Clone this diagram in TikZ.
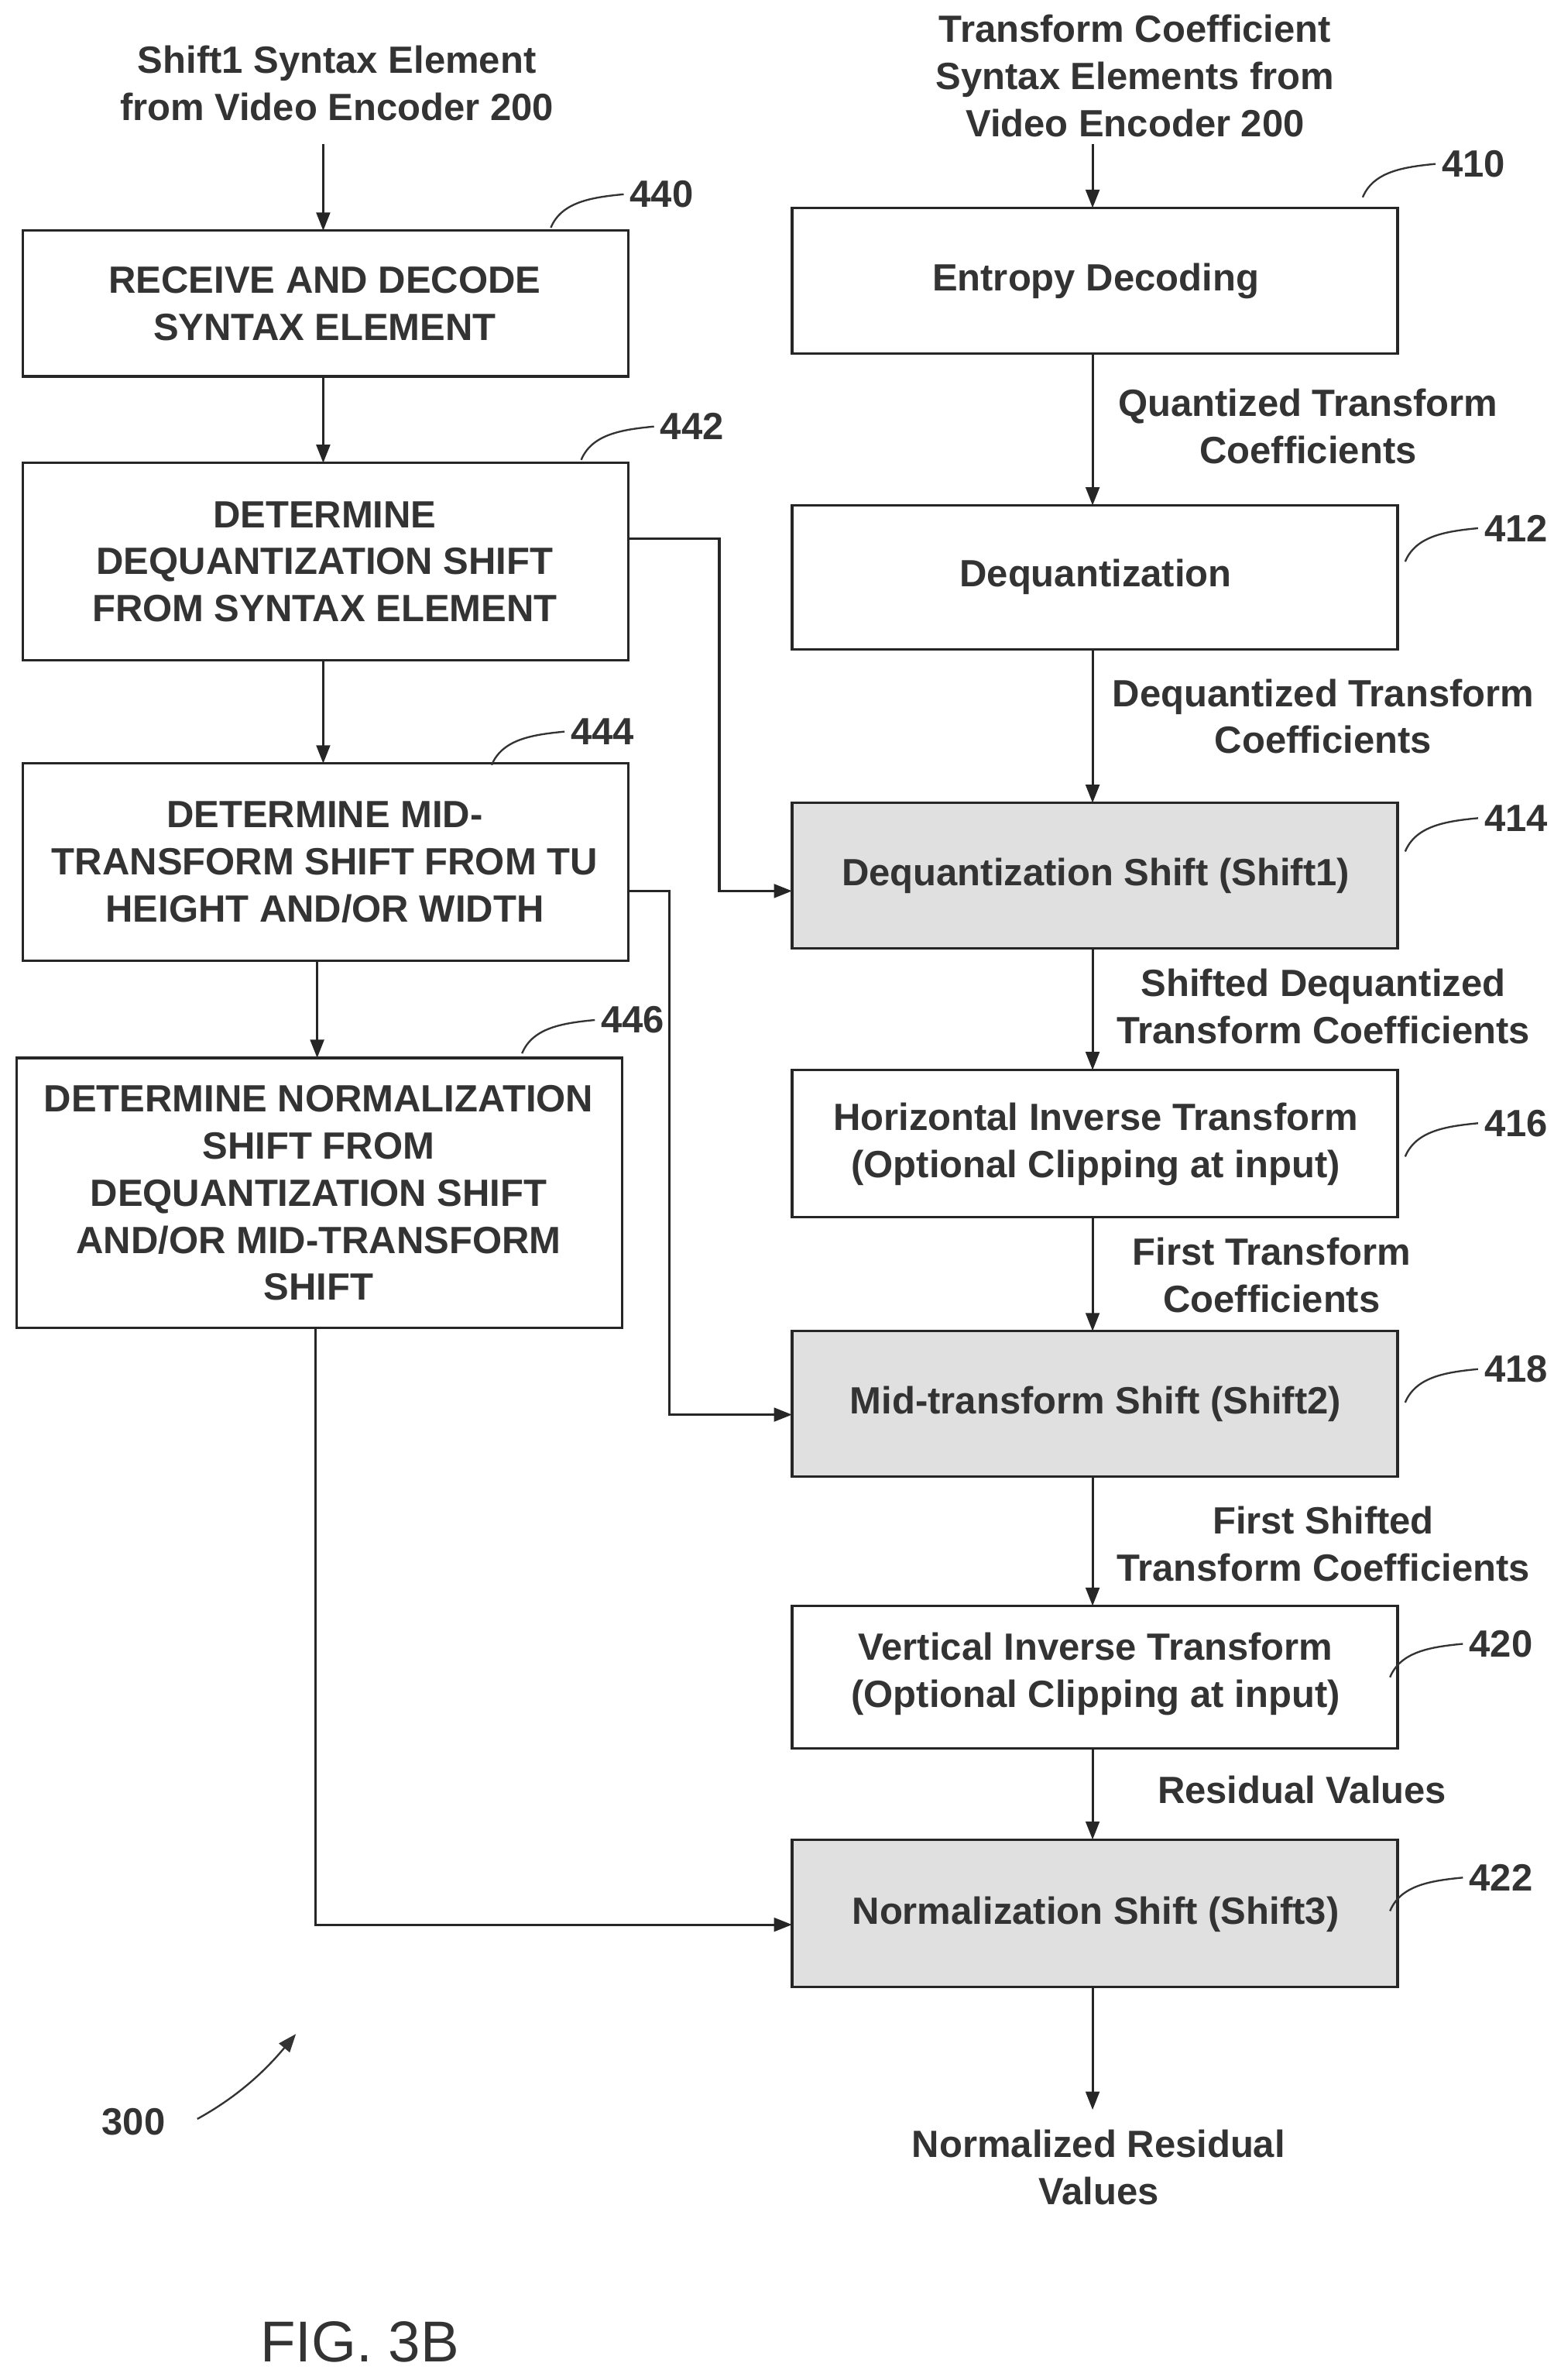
\documentclass[tikz,border=0pt]{standalone}
\usepackage{fontspec}
\setmainfont{Liberation Sans}
\usetikzlibrary{arrows.meta}
\begin{document}
\begin{tikzpicture}[x=1pt,y=-1pt,
 txt/.style={font=\bfseries\fontsize{25}{31}\selectfont,text=black!80,align=center,inner sep=0},
 box/.style={draw=black!85,line width=1.6pt},
 sh/.style={box,fill=black!12},
 ar/.style={line width=1.6pt,draw=black!85,-{Triangle[length=12pt,width=9pt]}},
 ld/.style={line width=1.2pt,draw=black!80}]
\useasboundingbox (0,0) rectangle (1024,1568);
% left boxes
\draw[box] (15,152) rectangle (414,248); \node[txt] (b440) at (214,200) {RECEIVE AND DECODE\\SYNTAX ELEMENT};
\draw[box] (15,305) rectangle (414,435); \node[txt] (b442) at (214,370) {DETERMINE\\DEQUANTIZATION SHIFT\\FROM SYNTAX ELEMENT};
\draw[box] (15,503) rectangle (414,633); \node[txt] (b444) at (214,568) {DETERMINE MID-\\TRANSFORM SHIFT FROM TU\\HEIGHT AND/OR WIDTH};
\draw[box] (11,697) rectangle (410,875); \node[txt] (b446) at (210,786) {DETERMINE NORMALIZATION\\SHIFT FROM\\DEQUANTIZATION SHIFT\\AND/OR MID-TRANSFORM\\SHIFT};
% right boxes
\draw[box] (522,137) rectangle (921,233); \node[txt] (b410) at (722,185) {Entropy Decoding};
\draw[box] (522,333) rectangle (921,428); \node[txt] (b412) at (722,380) {Dequantization};
\draw[sh] (522,529) rectangle (921,625); \node[txt] (b414) at (722,577) {Dequantization Shift (Shift1)};
\draw[box] (522,705) rectangle (921,802); \node[txt] (b416) at (722,754) {Horizontal Inverse Transform\\(Optional Clipping at input)};
\draw[sh] (522,877) rectangle (921,973); \node[txt] (b418) at (722,925) {Mid-transform Shift (Shift2)};
\draw[box] (522,1058) rectangle (921,1152); \node[txt] (b420) at (722,1103) {Vertical Inverse Transform\\(Optional Clipping at input)};
\draw[sh] (522,1212) rectangle (921,1309); \node[txt] (b422) at (722,1261) {Normalization Shift (Shift3)};
% inputs / outputs
\node[txt] (inL) at (222,55) {Shift1 Syntax Element\\from Video Encoder 200};
\node[txt] (inR) at (748,50) {Transform Coefficient\\Syntax Elements from\\Video Encoder 200};
\node[txt] (out) at (724,1428) {Normalized Residual\\Values};
% arrows left
\coordinate (a0) at (213,95); \coordinate (a1) at (213,152);
\draw[ar] (a0) -- (a1);
\coordinate (c1) at (213,248); \coordinate (c2) at (213,305); \draw[ar] (c1) -- (c2);
\coordinate (c3) at (213,435); \coordinate (c4) at (213,503); \draw[ar] (c3) -- (c4);
\coordinate (c5) at (209,633); \coordinate (c6) at (209,697); \draw[ar] (c5) -- (c6);
% arrows right
\coordinate (r0) at (720,95); \coordinate (r1) at (720,137); \draw[ar] (r0) -- (r1);
\coordinate (r2) at (720,233); \coordinate (r3) at (720,333); \draw[ar] (r2) -- (r3);
\coordinate (r4) at (720,428); \coordinate (r5) at (720,529); \draw[ar] (r4) -- (r5);
\coordinate (r6) at (720,625); \coordinate (r7) at (720,705); \draw[ar] (r6) -- (r7);
\coordinate (r8) at (720,802); \coordinate (r9) at (720,877); \draw[ar] (r8) -- (r9);
\coordinate (r10) at (720,973); \coordinate (r11) at (720,1058); \draw[ar] (r10) -- (r11);
\coordinate (r12) at (720,1152); \coordinate (r13) at (720,1212); \draw[ar] (r12) -- (r13);
\coordinate (r14) at (720,1309); \coordinate (r15) at (720,1390); \draw[ar] (r14) -- (r15);
% elbows
\coordinate (e1) at (414,355); \coordinate (e1b) at (522,587); \draw[ar] (e1) -- (474,355) -- (474,587) -- (e1b);
\coordinate (e2) at (414,587); \coordinate (e2b) at (522,932); \draw[ar] (e2) -- (441,587) -- (441,932) -- (e2b);
\coordinate (e3) at (208,875); \coordinate (e3b) at (522,1268); \draw[ar] (e3) -- (208,1268) -- (e3b);
% labels
\node[txt] at (862,281) {Quantized Transform\\Coefficients};
\node[txt] at (872,472) {Dequantized Transform\\Coefficients};
\node[txt] at (872,663) {Shifted Dequantized\\Transform Coefficients};
\node[txt] at (838,840) {First Transform\\Coefficients};
\node[txt] at (872,1017) {First Shifted\\Transform Coefficients};
\node[txt] at (858,1179) {Residual Values};
% ref numbers
\foreach \n/\x/\y in {440/415/128,442/435/281,444/376/482,446/396/672,410/950/108,412/978/348,414/978/539,416/978/740,418/978/902,420/968/1083,422/968/1237}{
 \node[txt,anchor=west] at (\x,\y) {\n};
 \draw[ld] (\x-52,\y+22) .. controls (\x-45,\y+5) and (\x-25,\y+2) .. (\x-4,\y);
}
\node[txt] (n300) at (88,1398) {300};
\draw[ld,-{Triangle[length=12pt,width=9pt]}] (130,1396) .. controls (150,1385) and (170,1370) .. (195,1340);
\node[txt,font=\fontsize{38}{40}\selectfont,anchor=center] at (237,1543) {FIG. 3B};
\end{tikzpicture}
\end{document}
